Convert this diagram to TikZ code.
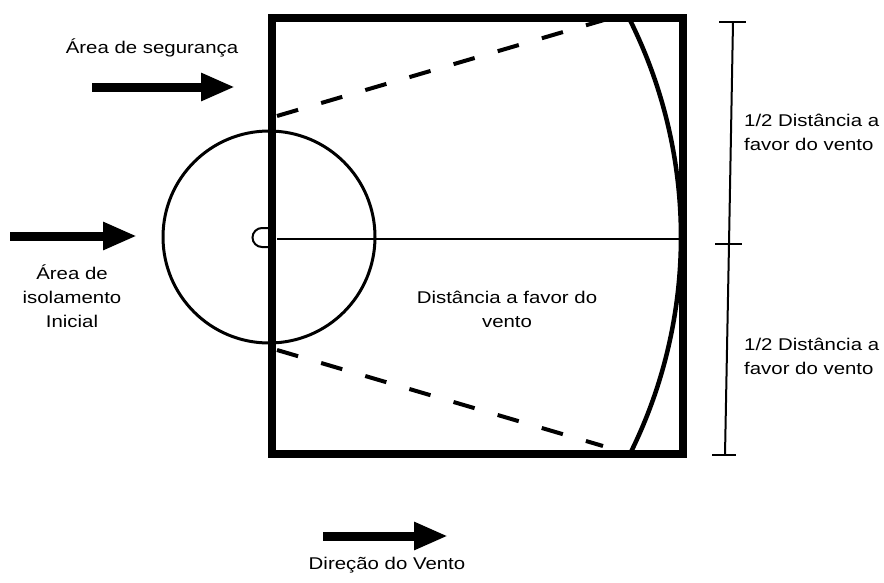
\documentclass[tikz,border=0pt]{standalone}
\usepackage{fontspec}
\setmainfont{Liberation Sans}[FakeStretch=1.2]
\usetikzlibrary{arrows.meta,calc}
\begin{document}
\begin{tikzpicture}[x=1pt,y=-1pt,
  lbl/.style={font=\fontsize{17}{24}\selectfont, align=center, inner sep=0pt},
  bigarrow/.style={line width=9pt, -{Triangle[length=34pt,width=26pt]}},
  frame/.style={line width=8pt},
  dashline/.style={line width=4pt, dash pattern=on 22pt off 24pt},
  thin/.style={line width=2pt},
  ring/.style={line width=3pt},
  front/.style={line width=4.5pt}
]
\useasboundingbox (0,0) rectangle (884,582);

% coordinates
\coordinate (c) at (269,237);
\coordinate (src) at (277,239);
\coordinate (mid) at (680,239);
\coordinate (dt1) at (277,116);
\coordinate (dt2) at (604,20);
\coordinate (db1) at (277,350);
\coordinate (db2) at (603,446);

% initial isolation circle
\draw[ring] (c) circle[radius=106];

% dashed lines
\draw[dashline] (dt1) -- (dt2);
\draw[dashline] (db1) -- (db2);

% centre line and source mark
\draw[thin] (src) -- (mid);
\draw[thin] (272,228) -- (262,228) arc[start angle=270, end angle=90, radius=9.5] -- (272,247);

% downwind front arc
\draw[front] (194,237) ++(26.73:487) arc[start angle=26.73, end angle=-26.73, radius=487];

% frame
\draw[frame] (272,18) rectangle (683,454);

% dimension bar
\coordinate (d1) at (733,22);
\coordinate (d2) at (729,244);
\coordinate (d3) at (725,455);
\draw[thin] (d1) -- (d2) -- (d3);
\draw[thin] ($(d1)+(-14,0)$) -- ++(27,0);
\draw[thin] ($(d2)+(-14,0)$) -- ++(27,0);
\draw[thin] ($(d3)+(-13,0)$) -- ++(24,0);

% arrows
\coordinate (a1s) at (92,87);
\coordinate (a1e) at (235,87);
\draw[bigarrow] (a1s) -- (a1e);
\coordinate (a2s) at (10,236);
\coordinate (a2e) at (137,236);
\draw[bigarrow] (a2s) -- (a2e);
\coordinate (a3s) at (323,536);
\coordinate (a3e) at (448,536);
\draw[bigarrow] (a3s) -- (a3e);

% labels
\node[lbl] (tseg) at (152,48) {Área de segurança};
\node[lbl] (tiso) at (72,296) {Área de\\isolamento\\Inicial};
\node[lbl] (tdist) at (507,309) {Distância a favor do\\vento};
\node[lbl, align=left, anchor=west] (thalf1) at (744,132) {1/2 Distância a\\favor do vento};
\node[lbl, align=left, anchor=west] (thalf2) at (744,356) {1/2 Distância a\\favor do vento};
\node[lbl] (tdir) at (387,565) {Direção do Vento};
\end{tikzpicture}
\end{document}
